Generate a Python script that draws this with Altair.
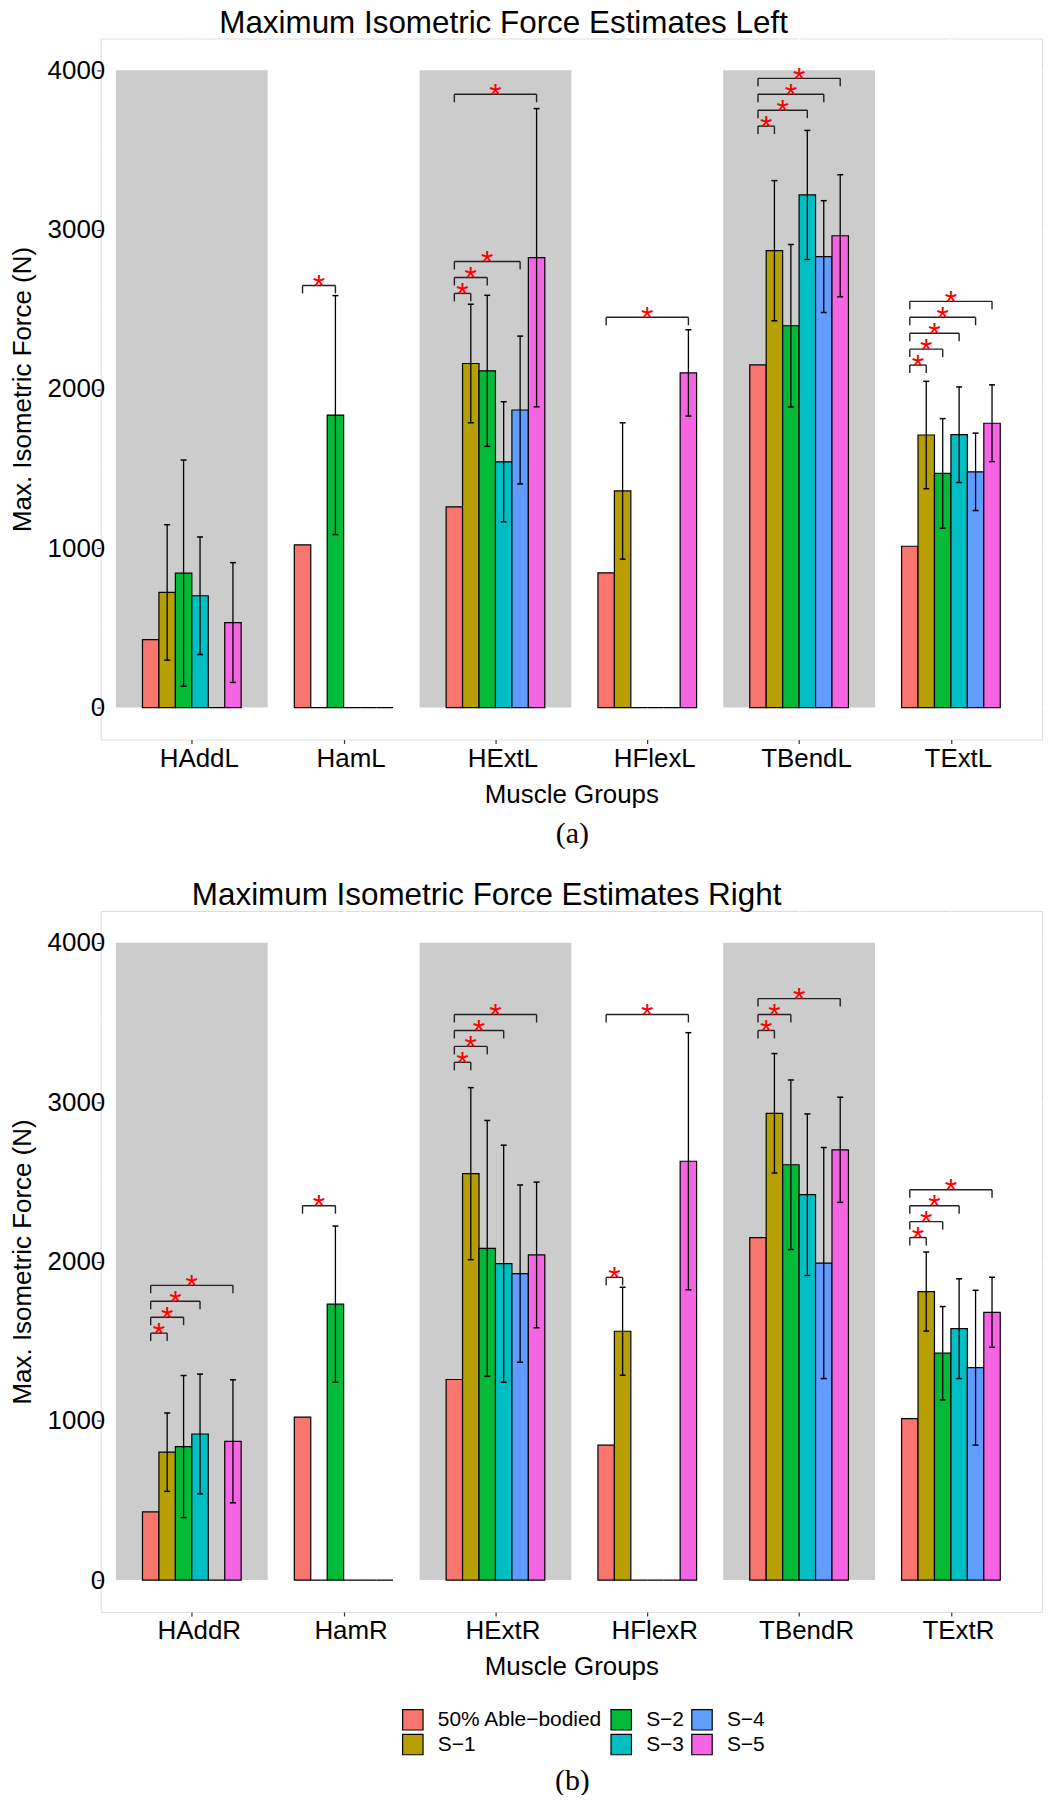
import json
import altair as alt
import pandas as pd

MINUS = "\u2212"
series = ["50% Able" + MINUS + "bodied", "S" + MINUS + "1", "S" + MINUS + "2",
          "S" + MINUS + "3", "S" + MINUS + "4", "S" + MINUS + "5"]
colors = ["#F8766D", "#B79F00", "#00BA38", "#00BFC4", "#619CFF", "#F564E3"]

groups_left = ["HAddL", "HamL", "HExtL", "HFlexL", "TBendL", "TExtL"]
groups_right = ["HAddR", "HamR", "HExtR", "HFlexR", "TBendR", "TExtR"]
shaded_groups = [1, 3, 5]          # HAdd, HExt, TBend (1-based positions)
minor_breaks = [500, 1500, 2500, 3500]

# ---- Left: mean values (None = no data) ----
left_ab = [427, 1022, 1260, 846, 2151, 1013]
left_s1 = [723, None, 2160, 1360, 2868, 1711]
left_s2 = [844, 1836, 2114, None, 2397, 1470]
left_s3 = [702, None, 1543, None, 3218, 1713]
left_s4 = [None, None, 1868, None, 2831, 1480]
left_s5 = [534, None, 2824, 2101, 2962, 1785]
# ---- Left: standard deviations ----
left_s1_sd = [425, None, 372, 428, 440, 337]
left_s2_sd = [710, 750, 474, None, 510, 344]
left_s3_sd = [369, None, 377, None, 405, 300]
left_s4_sd = [None, None, 464, None, 351, 243]
left_s5_sd = [376, None, 936, 271, 383, 241]

# ---- Right: mean values ----
right_ab = [428, 1023, 1259, 847, 2150, 1014]
right_s1 = [803, None, 2551, 1562, 2930, 1811]
right_s2 = [838, 1732, 2082, None, 2607, 1424]
right_s3 = [917, None, 1986, None, 2419, 1578]
right_s4 = [None, None, 1924, None, 1990, 1333]
right_s5 = [871, None, 2041, 2629, 2701, 1681]
# ---- Right: standard deviations ----
right_s1_sd = [246, None, 540, 276, 375, 248]
right_s2_sd = [446, 490, 803, None, 532, 293]
right_s3_sd = [376, None, 744, None, 507, 313]
right_s4_sd = [None, None, 556, None, 725, 486]
right_s5_sd = [386, None, 457, 807, 330, 220]

# ---- Significance brackets (50% Able-bodied vs. series) ----
left_sig_group = [2, 3, 3, 3, 3, 4, 5, 5, 5, 5, 6, 6, 6, 6, 6]
left_sig_series = [2, 1, 2, 4, 5, 5, 1, 3, 4, 5, 1, 2, 3, 4, 5]
left_sig_y = [2650, 2600, 2700, 2800, 3850, 2450, 3650, 3750, 3850, 3950,
              2150, 2250, 2350, 2450, 2550]

right_sig_group = [1, 1, 1, 1, 2, 3, 3, 3, 3, 4, 4, 5, 5, 5, 6, 6, 6, 6]
right_sig_series = [1, 2, 3, 5, 2, 1, 2, 3, 5, 1, 5, 1, 2, 5, 1, 2, 3, 5]
right_sig_y = [1550, 1650, 1750, 1850, 2350, 3250, 3350, 3450, 3550, 1900, 3550,
               3450, 3550, 3650, 2150, 2250, 2350, 2450]

BW = 0.65 / 6      # dodge width per bar
TIP = 50           # bracket tip length (data units)
W, H = 944, 703
FONT = "Liberation Sans"

legend_order = [series[i] for i in (0, 2, 4, 1, 3, 5)]
legend_colors = [colors[i] for i in (0, 2, 4, 1, 3, 5)]


def make_df(groups, means, sds):
    rows = []
    for gi, g in enumerate(groups):
        for si, s in enumerate(series):
            m = means[si][gi]
            sd = sds[si][gi]
            rows.append(dict(group=g, gi=gi + 1, series=s, si=si,
                             mean=0 if m is None else m,
                             sd=None if (sd is None or m is None) else sd))
    return pd.DataFrame(rows)


def panel(groups, means, sds, sig_g, sig_s, sig_y, title, title_dx, show_legend):
    df = make_df(groups, means, sds)
    xs = alt.Scale(domain=[0.4, 6.6], nice=False, zero=False)
    ys = alt.Scale(domain=[-200, 4200], nice=False, zero=False)
    xaxis = alt.Axis(values=[1, 2, 3, 4, 5, 6],
                     labelExpr=json.dumps(groups) + "[datum.value - 1]",
                     title="Muscle Groups", grid=True, gridColor="white", gridWidth=2,
                     domain=False, tickColor="#333333", tickSize=4, tickWidth=1.2,
                     labelFontSize=26, labelColor="black", labelPadding=2,
                     labelOffset=7, labelOverlap=False, labelFlush=False,
                     titleFontSize=26, titleFontWeight="normal", titleColor="black",
                     titlePadding=10, labelFont=FONT, titleFont=FONT)
    yaxis = alt.Axis(values=[0, 1000, 2000, 3000, 4000], format="d",
                     title="Max. Isometric Force (N)", grid=True, gridColor="white",
                     gridWidth=2, domain=False, tickColor="#333333", tickSize=4,
                     tickWidth=1.2, labelFontSize=26, labelColor="black",
                     labelPadding=-8, labelOverlap=False, labelFlush=False,
                     titleFontSize=26, titleFontWeight="normal", titleColor="black",
                     titlePadding=12, labelFont=FONT, titleFont=FONT)

    def X(f):
        return alt.X(f, scale=xs, axis=xaxis)

    def Y(f):
        return alt.Y(f, scale=ys, axis=yaxis)

    minor = alt.Chart(pd.DataFrame({"v": minor_breaks})).mark_rule(
        color="white", strokeWidth=1).encode(
        y=Y("v:Q"), x=alt.value(0), x2=alt.value(W))

    shade = alt.Chart(pd.DataFrame({"gi": shaded_groups})).transform_calculate(
        xa="datum.gi - 0.5", xb="datum.gi + 0.5").mark_rect(
        color="#CCCCCC").encode(x=X("xa:Q"), x2="xb:Q",
                                y=alt.Y(datum=4000, scale=ys, axis=yaxis),
                                y2=alt.datum(0))

    base = alt.Chart(df).transform_calculate(
        pos=f"datum.gi + (datum.si - 2.5) * {BW}",
        x0=f"datum.pos - {BW / 2}",
        x1=f"datum.pos + {BW / 2}",
        lo="datum.sd == null ? null : datum.mean - datum.sd",
        hi="datum.sd == null ? null : datum.mean + datum.sd")

    if show_legend:
        leg = alt.Legend(orient="none", legendX=302, legendY=800, direction="horizontal",
                         columns=3, title=None, symbolType="square", symbolSize=420,
                         symbolStrokeColor="black", symbolStrokeWidth=1.2,
                         symbolOpacity=1, labelFontSize=21, labelFont=FONT,
                         labelColor="black", labelOffset=14, rowPadding=-1,
                         columnPadding=5, padding=0, labelLimit=400)
    else:
        leg = None

    bars = base.mark_bar(stroke="black", strokeWidth=1.2, opacity=1).encode(
        x=X("x0:Q"), x2="x1:Q",
        y=alt.Y("mean:Q", scale=ys, axis=yaxis, stack=None), y2=alt.datum(0),
        color=alt.Color("series:N", scale=alt.Scale(domain=legend_order,
                                                    range=legend_colors),
                        legend=leg))

    eb = base.transform_filter("datum.sd != null")
    err = eb.mark_rule(color="black", strokeWidth=1.3).encode(
        x=X("pos:Q"), y=Y("lo:Q"), y2="hi:Q")
    cap_lo = eb.mark_tick(color="black", orient="horizontal", size=6,
                          thickness=1.5, opacity=1).encode(x=X("pos:Q"), y=Y("lo:Q"))
    cap_hi = eb.mark_tick(color="black", orient="horizontal", size=6,
                          thickness=1.5, opacity=1).encode(x=X("pos:Q"), y=Y("hi:Q"))

    sig = alt.Chart(pd.DataFrame({"gi": sig_g, "si": sig_s, "yv": sig_y})).transform_calculate(
        xf=f"datum.gi - 2.5 * {BW}",
        xt=f"datum.gi + (datum.si - 2.5) * {BW}",
        xm="(datum.xf + datum.xt) / 2",
        ytip=f"datum.yv - {TIP}")
    brk_h = sig.mark_rule(color="#222222", strokeWidth=1.4).encode(
        x=X("xf:Q"), x2="xt:Q", y=Y("yv:Q"))
    brk_l = sig.mark_rule(color="#222222", strokeWidth=1.4).encode(
        x=X("xf:Q"), y=Y("yv:Q"), y2="ytip:Q")
    brk_r = sig.mark_rule(color="#222222", strokeWidth=1.4).encode(
        x=X("xt:Q"), y=Y("yv:Q"), y2="ytip:Q")
    stars = sig.mark_text(text="*", color="red", fontSize=32, font=FONT,
                          baseline="alphabetic", align="center", dy=11.7).encode(
        x=X("xm:Q"), y=Y("yv:Q"))

    return alt.layer(minor, shade, bars, err, cap_lo, cap_hi, brk_h, brk_l, brk_r,
                     stars).properties(
        width=W, height=H,
        title=alt.TitleParams(title, fontSize=31.5, fontWeight="normal", font=FONT,
                              color="black", anchor="middle", frame="group",
                              dx=title_dx, offset=-1))


left_means = [left_ab, left_s1, left_s2, left_s3, left_s4, left_s5]
left_sds = [[None] * 6, left_s1_sd, left_s2_sd, left_s3_sd, left_s4_sd, left_s5_sd]
right_means = [right_ab, right_s1, right_s2, right_s3, right_s4, right_s5]
right_sds = [[None] * 6, right_s1_sd, right_s2_sd, right_s3_sd, right_s4_sd, right_s5_sd]

pA = panel(groups_left, left_means, left_sds, left_sig_group, left_sig_series, left_sig_y,
           "Maximum Isometric Force Estimates Left", -68, False)
pB = panel(groups_right, right_means, right_sds, right_sig_group, right_sig_series,
           right_sig_y, "Maximum Isometric Force Estimates Right", -85, True)

cap_title = dict(orient="bottom", font="Liberation Serif", fontSize=30,
                 fontWeight="normal", color="black", anchor="middle", frame="group",
                 dx=473)

A = alt.vconcat(pA, title=alt.TitleParams("(a)", offset=11, **cap_title)).resolve_scale(
    color="independent")
B = alt.vconcat(pB, title=alt.TitleParams("(b)", offset=8, **cap_title)).resolve_scale(
    color="independent")

chart = alt.vconcat(A, B, spacing=31).resolve_scale(color="independent").properties(
    padding={"top": -3, "left": 0, "right": 0, "bottom": -4}).configure_view(
    fill="#EBEBEB", stroke=None).configure(font=FONT)

chart.save("out.html", embed_options={"renderer": "svg", "actions": False})
